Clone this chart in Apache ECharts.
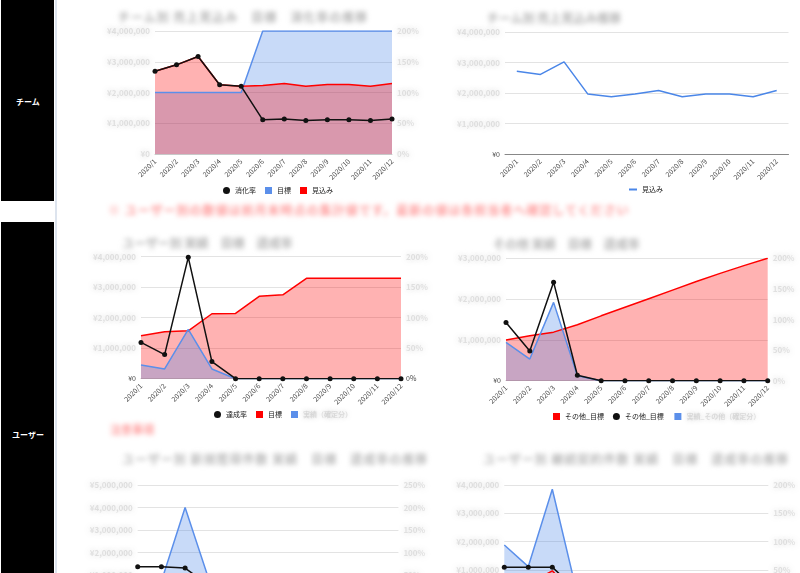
<!DOCTYPE html>
<html>
<head>
<meta charset="utf-8">
<script src="https://cdn.jsdelivr.net/npm/echarts@6/dist/echarts.min.js"></script>
<style>
  html,body{margin:0;padding:0;background:#fff;width:800px;height:573px;overflow:hidden;position:relative;}
  .side{position:absolute;left:1px;width:53px;background:#000;}
  .sideText{position:absolute;left:0;width:56px;text-align:center;color:#fff;font-weight:bold;font-size:8px;font-family:'Noto Sans CJK JP',sans-serif;}
  .blur{position:absolute;white-space:nowrap;font-family:'Noto Sans CJK JP',sans-serif;filter:blur(2.8px);font-weight:bold;}
  .chart{position:absolute;left:0;top:0;width:800px;height:573px;}
</style>
</head>
<body>
<div class="side" style="top:0;height:201px;"></div>
<div class="side" style="top:222px;height:351px;"></div>
<div style="position:absolute;left:55px;top:0;width:2px;height:573px;background:#dde4ee;"></div>
<div class="sideText" style="top:96px;">チーム</div>
<div class="sideText" style="top:429px;">ユーザー</div>

<div class="blur" style="left:118px;top:8px;font-size:12px;color:#b4b4b4;letter-spacing:1px;">チーム別 売上見込み　目標　消化率の推移</div>
<div class="blur" style="left:487px;top:9px;font-size:12px;color:#b4b4b4;">チーム別 売上見込み推移</div>
<div class="blur" style="left:108px;top:201px;font-size:12px;color:#ff9a9a;letter-spacing:1px;">※ ユーザー別の数値は前月末時点の集計値です。最新の値は各担当者へ確認してください</div>
<div class="blur" style="left:122px;top:234px;font-size:12px;color:#b4b4b4;">ユーザー別 実績　目標　達成率</div>
<div class="blur" style="left:493px;top:235px;font-size:12px;color:#b4b4b4;">その他 実績　目標　達成率</div>
<div class="blur" style="left:110px;top:421px;font-size:11px;color:#ff9a9a;">注意事項</div>
<div class="blur" style="left:122px;top:450px;font-size:12px;color:#b8b8b8;letter-spacing:1px;">ユーザー別 新規獲得件数 実績　目標　達成率の推移</div>
<div class="blur" style="left:483px;top:450px;font-size:12px;color:#b8b8b8;letter-spacing:1px;">ユーザー別 継続契約件数 実績　目標　達成率の推移</div>

<script>
// ---------- data ----------
const months = ['2020/1','2020/2','2020/3','2020/4','2020/5','2020/6','2020/7','2020/8','2020/9','2020/10','2020/11','2020/12'];

// chart 1 (team): target / forecast (left axis), consumption rate % (right axis)
const c1Target   = [2000,2000,2000,2000,2000,4000,4000,4000,4000,4000,4000,4000];
const c1Forecast = [2690,2900,3170,2250,2200,2230,2290,2200,2260,2260,2200,2290];
const c1Rate     = [134.5,145,158.5,112.5,110,55.5,57,54.5,55.5,55.5,54.5,57];

// chart 2 (team): forecast
const c2Forecast = [2710,2610,3020,1970,1880,1970,2080,1880,1970,1970,1880,2080];

// chart 3 (user): target, actual (left), achievement rate % (right)
const c3Target = [1410,1540,1570,2130,2140,2700,2750,3290,3290,3290,3290,3290];
const c3Actual = [450,320,1620,320,0,0,0,0,0,0,0,0];
const c3Rate   = [59.5,39.5,199,28,0,0,0,0,0,0,0,0];

// chart 4 (user, other): target, actual (left), rate % (right)
const c4Target = [1000,1100,1190,1370,1590,1800,2010,2220,2430,2630,2820,3000];
const c4Actual = [940,530,1920,120,0,0,0,0,0,0,0,0];
const c4Rate   = [95,48.5,161,9,0,0,0,0,0,0,0,0];

// chart 5 (user, partially visible)
const c5Actual = [600,720,4000,810,0,0,0,0,0,0,0,0];
const c5Rate   = [68.5,68.5,65.5,26.5,0,0,0,0,0,0,0,0];

// chart 6 (user, partially visible)
const c6Actual = [1880,1120,3850,290,0,0,0,0,0,0,0,0];
const c6Target = [200,500,970,100,0,0,0,0,0,0,0,0];
const c6Rate   = [55,55,55,15,0,0,0,0,0,0,0,0];

// ---------- helpers ----------
const F = "'Noto Sans CJK JP','Noto Sans',sans-serif";
const RED = '#ff0000', RED_FILL = 'rgba(255,0,0,0.3)';
const BLUE = '#5b8fea', BLUE_FILL = 'rgba(74,134,232,0.3)';
const BLK = '#111';
const BL = {color:'rgba(160,160,160,0.28)', textShadowColor:'rgba(120,120,120,1)', textShadowBlur:6, fontSize:8, fontWeight:'bold', fontFamily:F};
const CL = {color:'#444', fontSize:7, fontFamily:F};
const money = v => '¥' + (v*1000).toLocaleString('en-US');
const pct = v => v + '%';

function grid(l,t,w,h){ return {left:l, top:t, width:w, height:h, containLabel:false, outerBoundsMode:'none'}; }
function xAx(boundaryGap, lineColor){
  return {type:'category', data:months, boundaryGap:boundaryGap,
    axisTick:{show:false},
    axisLine:{show:true, lineStyle:{color:lineColor||'#c8c8c8'}},
    axisLabel:{rotate:45, fontSize:7, color:'#444', margin:6, interval:0, fontFamily:F},
    splitLine:{show:false}};
}
function yAx(pos, max, interval, fmt, zeroVisible, grid){
  return {type:'value', min:0, max:max, interval:interval, position:pos,
    axisLine:{show:false}, axisTick:{show:false},
    splitLine:{show:grid, lineStyle:{color:'#e3e3e3', width:1}},
    axisLabel:{margin:5, formatter: v => (zeroVisible && v===0) ? '{z|' + fmt(0) + '}' : '{b|' + fmt(v) + '}', rich:{z:CL, b:BL}}};
}
function area(name, data, color, fill, yi){
  return {name:name, type:'line', data:data, yAxisIndex:yi||0, symbol:'none', smooth:false,
    lineStyle:{color:color, width:1.5}, itemStyle:{color:color},
    areaStyle:{color:fill, opacity:1}, z:2};
}
function dots(name, data, yi){
  return {name:name, type:'line', data:data, yAxisIndex:yi, symbol:'circle', symbolSize:5,
    lineStyle:{color:BLK, width:1.5}, itemStyle:{color:BLK}, z:5};
}
function legend(left, top, items){
  return {left:left, top:top, itemWidth:7, itemHeight:7, itemGap:9, selectedMode:false,
    textStyle:{fontSize:7, color:'#222', fontFamily:F}, data:items};
}
const blurLegendText = {color:'rgba(160,160,160,0.3)', textShadowColor:'rgba(120,120,120,1)', textShadowBlur:5, fontSize:7, fontWeight:'bold', fontFamily:F};

function mk(opt){
  const d = document.createElement('div');
  d.className = 'chart';
  document.body.appendChild(d);
  const c = echarts.init(d, null, {renderer:'canvas'});
  opt.animation = false;
  c.setOption(opt);
}

// ---------- chart 1 ----------
mk({
  grid:grid(155,31,237,123),
  xAxis:xAx(false),
  yAxis:[yAx('left',4000,1000,money,false,true), yAx('right',200,50,pct,false,false)],
  legend:legend(218,182,[{name:'消化率',icon:'circle'},{name:'目標',icon:'rect'},{name:'見込み',icon:'rect'}]),
  series:[
    area('目標', c1Target, BLUE, BLUE_FILL),
    area('見込み', c1Forecast, RED, RED_FILL),
    dots('消化率', c1Rate, 1)
  ]
});

// ---------- chart 2 ----------
mk({
  grid:grid(505,32,283.5,122),
  xAxis:xAx(true,'#888'),
  yAxis:[yAx('left',4000,1000,money,true,true)],
  legend:{left:624, top:181, itemWidth:8, itemHeight:2, selectedMode:false,
    textStyle:{fontSize:7, color:'#222', fontFamily:F}, data:[{name:'見込み',icon:'rect'}]},
  series:[{name:'見込み', type:'line', data:c2Forecast, symbol:'none',
    lineStyle:{color:'#4a86e8', width:1.5}, itemStyle:{color:'#4a86e8'}}]
});

// ---------- chart 3 ----------
mk({
  grid:grid(141,256.7,260,122),
  xAxis:xAx(false),
  yAxis:[yAx('left',4000,1000,money,true,true), yAx('right',200,50,pct,true,false)],
  legend:legend(209,406,[{name:'達成率',icon:'circle'},{name:'目標',icon:'rect'},
    {name:'実績（確定分）',icon:'rect',textStyle:blurLegendText}]),
  series:[
    area('目標', c3Target, RED, RED_FILL),
    area('実績（確定分）', c3Actual, BLUE, BLUE_FILL),
    dots('達成率', c3Rate, 1)
  ]
});

// ---------- chart 4 ----------
mk({
  grid:grid(506,258.3,261.7,122.4),
  xAxis:xAx(false),
  yAxis:[yAx('left',3000,1000,money,true,true), yAx('right',200,50,pct,false,false)],
  legend:legend(548,408,[{name:'その他_目標',icon:'rect'},{name:'その他_目標 ',icon:'circle'},
    {name:'実績_その他（確定分）',icon:'rect',textStyle:blurLegendText}]),
  series:[
    area('その他_目標', c4Target, RED, RED_FILL),
    area('実績_その他（確定分）', c4Actual, BLUE, BLUE_FILL),
    dots('その他_目標 ', c4Rate, 1)
  ]
});

// ---------- chart 5 ----------
mk({
  grid:grid(137.7,485,260.7,112.5),
  xAxis:xAx(false),
  yAxis:[yAx('left',5000,1000,money,false,true), yAx('right',250,50,pct,false,false)],
  series:[
    area('実績', c5Actual, BLUE, BLUE_FILL),
    dots('達成率', c5Rate, 1)
  ]
});

// ---------- chart 6 ----------
mk({
  grid:grid(504.3,485,264,113.3),
  xAxis:xAx(false),
  yAxis:[yAx('left',4000,1000,money,false,true), yAx('right',200,50,pct,false,false)],
  series:[
    area('目標', c6Target, RED, RED_FILL),
    area('実績', c6Actual, BLUE, BLUE_FILL),
    dots('達成率', c6Rate, 1)
  ]
});
</script>
</body>
</html>
